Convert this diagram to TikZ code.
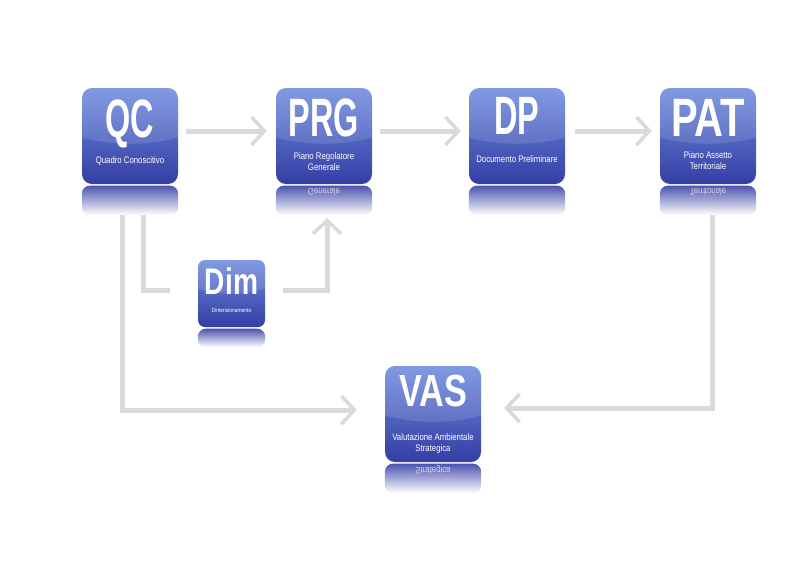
\documentclass[tikz,border=0pt]{standalone}
\usepackage{fontspec}
\setmainfont{Liberation Sans}
\usetikzlibrary{arrows.meta,calc}

\definecolor{tiletop}{RGB}{112,140,222}
\definecolor{tilemid}{RGB}{74,96,198}
\definecolor{tilebot}{RGB}{52,62,164}
\definecolor{linkgray}{RGB}{218,218,218}

\tikzset{
  tile/.style={rounded corners=10pt, minimum width=96pt, minimum height=96pt,
    inner sep=0pt, top color=tiletop, middle color=tilemid, bottom color=tilebot},
  smalltile/.style={tile, rounded corners=7pt, minimum width=67pt, minimum height=67pt},
  bigtext/.style={text=white, font=\fontsize{54}{54}\selectfont\bfseries, inner sep=0pt},
  subtext/.style={text=white, font=\fontsize{9.5}{11}\selectfont, inner sep=0pt,
    align=center, xscale=.82},
  echo/.style={subtext, yscale=-1, text opacity=.7},
  link/.style={draw=linkgray, line width=5pt, line join=miter,
    -{Straight Barb[length=13pt, width=28pt, line width=3.5pt]}},
  stub/.style={draw=linkgray, line width=5pt, line join=miter}
}

\begin{document}
\begin{tikzpicture}[x=1pt, y=-1pt]
  \fill[white] (0,0) rectangle (808,581);
  \useasboundingbox (0,0) rectangle (808,581);

  % riquadri
  \node[tile] (qc) at (130,136) {};
  \node[tile] (prg) at (324,136) {};
  \node[tile] (dp) at (517,136) {};
  \node[tile] (pat) at (708,136) {};
  \node[smalltile] (dim) at (231.5,293.5) {};
  \node[tile] (vas) at (433,414) {};

  % riflessi e lucido
  \foreach \t/\d in {qc/31, prg/31, dp/31, pat/31, vas/31, dim/20} {
    \shade[top color=tilebot!88!white, bottom color=white, rounded corners=8pt]
      ([yshift=-\d pt]\t.south west) rectangle ([yshift=-1.5pt]\t.south east);
    \begin{scope}
      \clip[rounded corners=8pt] (\t.south west) rectangle (\t.north east);
      \fill[white, opacity=.12] ($(\t.north)+(0,-6)$) ellipse [x radius=\d*3.5pt, y radius=\d*2pt];
    \end{scope}
  }

  % sigle
  \node[bigtext, xscale=.6, anchor=base] (qc-name) at ([yshift=-50pt]qc.north) {QC};
  \node[bigtext, xscale=.6, anchor=base] (prg-name) at ([yshift=-49pt]prg.north) {PRG};
  \node[bigtext, xscale=.6, anchor=base] (dp-name) at ([yshift=-47pt]dp.north) {DP};
  \node[bigtext, xscale=.74, anchor=base] (pat-name) at ([yshift=-49pt]pat.north) {PAT};
  \node[bigtext, xscale=.76, anchor=base, font=\fontsize{45}{45}\selectfont\bfseries] (vas-name) at ([yshift=-41pt]vas.north) {VAS};
  \node[bigtext, xscale=.76, anchor=base, font=\fontsize{37}{37}\selectfont\bfseries] (dim-name) at ([yshift=-35pt]dim.north) {Dim};

  % descrizioni
  \node[subtext, anchor=north] (qc-desc) at ([yshift=-69pt]qc.north) {Quadro Conoscitivo};
  \node[subtext, anchor=north] (prg-desc) at ([yshift=-65pt]prg.north) {Piano Regolatore\\Generale};
  \node[subtext, anchor=north] (dp-desc) at ([yshift=-68pt]dp.north) {Documento Preliminare};
  \node[subtext, anchor=north] (pat-desc) at ([yshift=-64pt]pat.north) {Piano Assetto\\Territoriale};
  \node[subtext, anchor=north] (vas-desc) at ([yshift=-68pt]vas.north) {Valutazione Ambientale\\Strategica};
  \node[subtext, anchor=north, font=\fontsize{6}{7}\selectfont] (dim-desc) at ([yshift=-48pt]dim.north) {Dimensionamento};

  % testi riflessi
  \node[echo] (prg-echo) at ([yshift=-8pt]prg.south) {Generale};
  \node[echo] (pat-echo) at ([yshift=-8pt]pat.south) {Territoriale};
  \node[echo] (vas-echo) at ([yshift=-8pt]vas.south) {Strategica};

  % collegamenti
  \draw[link, shorten <=8pt, shorten >=9pt] ([yshift=5pt]qc.east) -- ([yshift=5pt]prg.west);
  \draw[link, shorten <=8pt, shorten >=8pt] ([yshift=5pt]prg.east) -- ([yshift=5pt]dp.west);
  \draw[link, shorten <=10pt, shorten >=8pt] ([yshift=5pt]dp.east) -- ([yshift=5pt]pat.west);
  \draw[stub, shorten >=28pt] ([xshift=13pt, yshift=-31pt]qc.south) |- ([yshift=3pt]dim.west);
  \draw[link, shorten <=18pt, shorten >=34pt] ([yshift=3pt]dim.east) -| ([xshift=3pt]prg.south);
  \draw[link, shorten >=28pt] ([xshift=-8pt, yshift=-31pt]qc.south) |- ([yshift=4pt]vas.west);
  \draw[link, shorten >=23pt] ([xshift=4pt, yshift=-31pt]pat.south) |- ([yshift=6pt]vas.east);
\end{tikzpicture}
\end{document}
